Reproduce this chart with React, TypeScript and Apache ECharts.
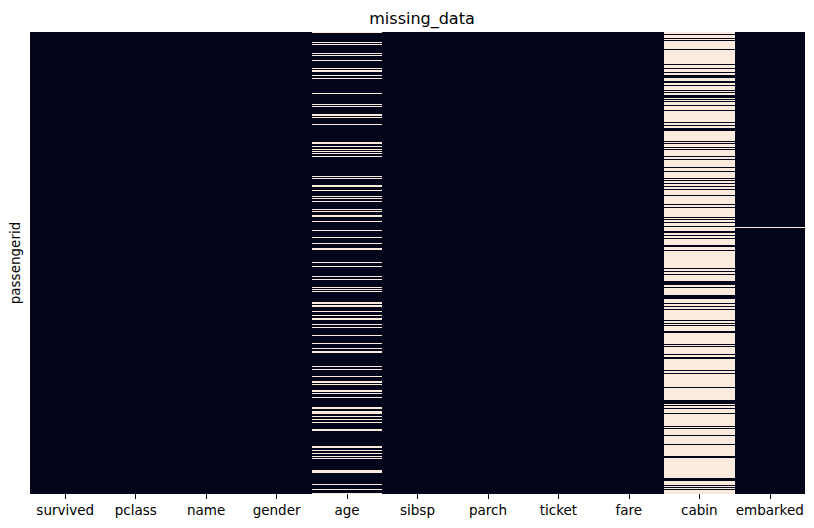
import React, { useEffect, useRef } from "react";
import * as echarts from "echarts";

const columns = ["survived", "pclass", "name", "gender", "age", "sibsp", "parch", "ticket", "fare", "cabin", "embarked"];
const rowCount = 891;

// rows (0-based) where "age" is missing, as [first, last] ranges
const ageMissing: [number, number][] = [
  [0, 1], [19, 20], [24, 25], [41, 41], [45, 45], [54, 54], [70, 71], [74, 76], [82, 82], [89, 89],
  [118, 118], [138, 138], [143, 143], [158, 161], [164, 164], [177, 177], [212, 212], [215, 215],
  [219, 220], [225, 225], [229, 229], [233, 233], [239, 239], [277, 277], [281, 281], [296, 298],
  [304, 304], [316, 316], [321, 321], [326, 326], [341, 341], [345, 345], [352, 355], [365, 365],
  [381, 381], [396, 396], [406, 406], [416, 416], [419, 419], [444, 445], [451, 451], [471, 471],
  [476, 476], [491, 491], [495, 495], [499, 501], [520, 523], [526, 529], [539, 539], [545, 547],
  [551, 554], [563, 563], [569, 569], [585, 585], [600, 600], [610, 610], [615, 618], [644, 644],
  [649, 649], [663, 665], [673, 676], [679, 679], [690, 693], [697, 697], [704, 704], [723, 726],
  [730, 730], [733, 736], [740, 740], [746, 746], [752, 752], [765, 769], [798, 802], [806, 806],
  [812, 812], [818, 818], [822, 822], [845, 849], [871, 871], [882, 882], [889, 890],
];

// rows where "cabin" is present (all others missing)
const cabinPresent: [number, number][] = [
  [3, 3], [11, 11], [16, 16], [32, 32], [61, 61], [70, 70], [78, 78], [83, 87], [94, 94], [97, 97],
  [103, 103], [111, 111], [115, 115], [122, 126], [130, 130], [134, 134], [140, 140], [150, 150],
  [173, 173], [179, 179], [186, 189], [210, 210], [214, 214], [221, 221], [225, 225], [240, 240],
  [244, 244], [260, 260], [268, 268], [281, 281], [285, 285], [291, 291], [297, 297], [302, 302],
  [314, 314], [331, 331], [337, 337], [357, 357], [360, 360], [366, 366], [374, 374], [384, 387],
  [391, 391], [397, 397], [410, 413], [420, 420], [455, 455], [461, 461], [467, 467], [481, 486],
  [492, 492], [507, 507], [510, 514], [523, 523], [528, 528], [534, 534], [556, 556], [561, 561],
  [565, 565], [576, 580], [602, 602], [606, 606], [621, 621], [626, 630], [652, 652], [658, 658],
  [685, 685], [709, 717], [720, 720], [726, 726], [735, 735], [759, 759], [764, 764], [778, 778],
  [795, 795], [818, 821], [860, 864], [874, 874], [878, 878], [882, 882],
];

// rows where "embarked" is missing
const embarkedMissing: [number, number][] = [[376, 376]];

const DARK = "#03051A";
const LIGHT = "#FAEBDD";

function inRanges(r: number, ranges: [number, number][]) {
  return ranges.some(([a, b]) => r >= a && r <= b);
}

function isMissing(col: string, r: number): number {
  if (col === "age") return inRanges(r, ageMissing) ? 1 : 0;
  if (col === "cabin") return inRanges(r, cabinPresent) ? 0 : 1;
  if (col === "embarked") return inRanges(r, embarkedMissing) ? 1 : 0;
  return 0;
}

// runs of equal value per column: [colIndex, firstRow, lastRow, value, isMinority]
function buildRuns() {
  const runs: number[][] = [];
  columns.forEach((col, c) => {
    let missCount = 0;
    for (let r = 0; r < rowCount; r++) missCount += isMissing(col, r);
    const minority = missCount * 2 < rowCount ? 1 : 0;
    let start = 0;
    let cur = isMissing(col, 0);
    for (let r = 1; r <= rowCount; r++) {
      const v = r < rowCount ? isMissing(col, r) : -1;
      if (v !== cur) {
        runs.push([c, start, r - 1, cur, cur === minority ? 1 : 0]);
        start = r;
        cur = v;
      }
    }
  });
  return runs;
}

export default function App() {
  const ref = useRef<HTMLDivElement>(null);
  useEffect(() => {
    document.body.style.margin = "0";
    if (!ref.current) return;
    const chart = echarts.init(ref.current, null, { renderer: "svg" });
    const rows = Array.from({ length: rowCount }, (_, i) => String(i + 1));
    chart.setOption({
      animation: false,
      backgroundColor: "#ffffff",
      textStyle: { fontFamily: "DejaVu Sans", color: "#000" },
      title: {
        text: "missing_data",
        left: 417,
        textAlign: "center",
        top: 5,
        textStyle: { fontFamily: "DejaVu Sans", fontSize: 16, fontWeight: "normal", color: "#000" },
      },
      grid: { left: 30, right: 9, top: 32, bottom: 34, containLabel: false },
      xAxis: {
        type: "category",
        data: columns,
        axisLine: { show: false },
        axisTick: { show: true, alignWithLabel: true, length: 5, lineStyle: { color: "#000", width: 1 } },
        axisLabel: { fontFamily: "DejaVu Sans", fontSize: 13.5, color: "#000", margin: 9, interval: 0 },
        splitLine: { show: false },
      },
      yAxis: {
        type: "category",
        data: rows,
        inverse: true,
        name: "passengerid",
        nameLocation: "middle",
        nameGap: 8,
        nameTextStyle: { fontFamily: "DejaVu Sans", fontSize: 13.5, color: "#000" },
        axisLine: { show: false },
        axisTick: { show: false },
        axisLabel: { show: false },
        splitLine: { show: false },
      },
      series: [
        {
          type: "custom",
          data: buildRuns(),
          encode: { x: 0, y: [1, 2] },
          renderItem: (params: any, api: any) => {
            const c = api.value(0);
            const r0 = api.value(1);
            const r1 = api.value(2);
            const v = api.value(3);
            const minor = api.value(4);
            const p0 = api.coord([c, r0]);
            const p1 = api.coord([c, r1]);
            const size = api.size([1, 1]);
            const x0 = Math.round(p0[0] - size[0] / 2);
            const x1 = Math.round(p0[0] + size[0] / 2);
            const y0 = Math.round(p0[1] - size[1] / 2);
            let y1 = Math.round(p1[1] + size[1] / 2);
            if (y1 - y0 < 1) y1 = y0 + 1;
            return {
              type: "rect",
              shape: { x: x0, y: y0, width: x1 - x0, height: y1 - y0 },
              style: { fill: v === 1 ? LIGHT : DARK },
              z2: minor ? 1 : 0,
            };
          },
          silent: true,
        },
      ],
    });
    return () => chart.dispose();
  }, []);
  return <div ref={ref} style={{ width: 814, height: 528 }} />;
}
